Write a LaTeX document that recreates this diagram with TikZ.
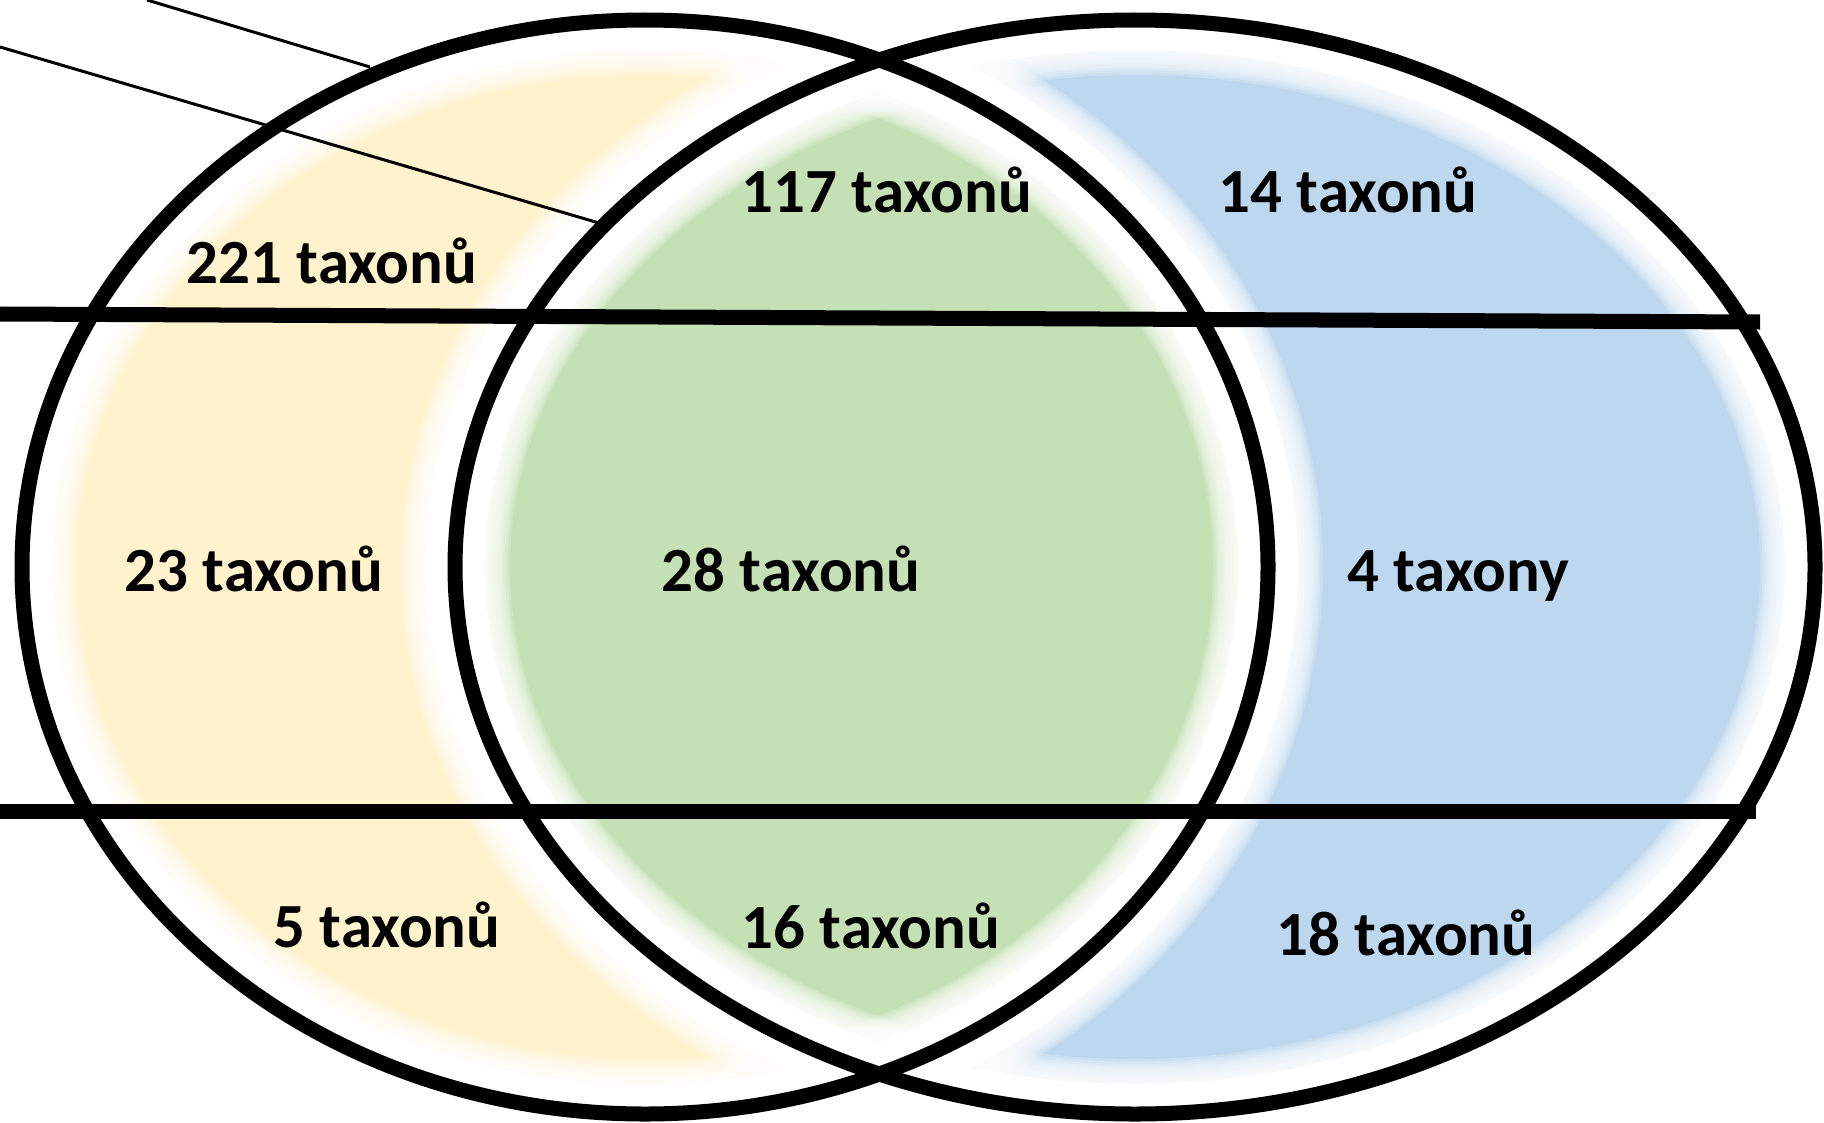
\documentclass[tikz,border=0pt]{standalone}
\usepackage{fontspec}
\setmainfont{Carlito}
\definecolor{yel}{HTML}{FFF2CC}
\definecolor{grn}{HTML}{C5E0B4}
\definecolor{blu}{HTML}{BDD7EE}
\tikzset{
  ring/.style={draw=black, line width=4.27pt},
  divider/.style={draw=black, line width=4.27pt},
  pointer/.style={draw=black, line width=0.85pt},
  count/.style={font=\fontsize{17.9}{21}\selectfont\bfseries, anchor=base, inner sep=0pt},
  halo/.style={draw=white, opacity=0.2},
}
\begin{document}
\begin{tikzpicture}[x=0.1mm, y=-0.1mm]
\useasboundingbox (0,0) rectangle (1824,1122);
\clip (0,0) rectangle (1824,1122);
% fills
\fill[yel] (645,567) ellipse [x radius=62.3mm, y radius=54.7mm];
\fill[blu] (1135,567) ellipse [x radius=68mm, y radius=54.7mm];
\begin{scope}
  \clip (645,567) ellipse [x radius=62.3mm, y radius=54.7mm];
  \fill[grn] (1135,567) ellipse [x radius=68mm, y radius=54.7mm];
\end{scope}
% soft white edges
\foreach \w in {60,65,...,110} {
  \pgfmathsetmacro\lw{\w*0.28453}
  \draw[halo, line width=\lw pt] (645,567) ellipse [x radius=62.3mm, y radius=54.7mm];
  \draw[halo, line width=\lw pt] (1135,567) ellipse [x radius=68mm, y radius=54.7mm];
}
\draw[white, line width=17.07pt] (645,567) ellipse [x radius=62.3mm, y radius=54.7mm];
\draw[white, line width=17.07pt] (1135,567) ellipse [x radius=68mm, y radius=54.7mm];
% horizontal dividers
\coordinate (t0) at (0,314);
\coordinate (t1) at (1760,322);
\coordinate (b0) at (0,811);
\coordinate (b1) at (1756,811);
\draw[divider] (t0) -- (t1);
\draw[divider] (b0) -- (b1);
% rings
\draw[ring] (645,567) ellipse [x radius=62.3mm, y radius=54.7mm];
\draw[ring] (1135,567) ellipse [x radius=68mm, y radius=54.7mm];
% pointer lines
\coordinate (pa0) at (147,0);
\coordinate (pa1) at (370,67);
\coordinate (pb0) at (0,47);
\coordinate (pb1) at (599,223);
\draw[pointer] (pa0) -- (pa1);
\draw[pointer] (pb0) -- (pb1);
% labels
\node[count] (n221) at (332,283) {221 taxonů};
\node[count] (n117) at (887,213) {117 taxonů};
\node[count] (n14) at (1348,213) {14 taxonů};
\node[count] (n23) at (254,591) {23 taxonů};
\node[count] (n28) at (791,591) {28 taxonů};
\node[count] (n4) at (1458,591) {4 taxony};
\node[count] (n5) at (387,947) {5 taxonů};
\node[count] (n16) at (871,948) {16 taxonů};
\node[count] (n18) at (1406,955) {18 taxonů};
\end{tikzpicture}
\end{document}
